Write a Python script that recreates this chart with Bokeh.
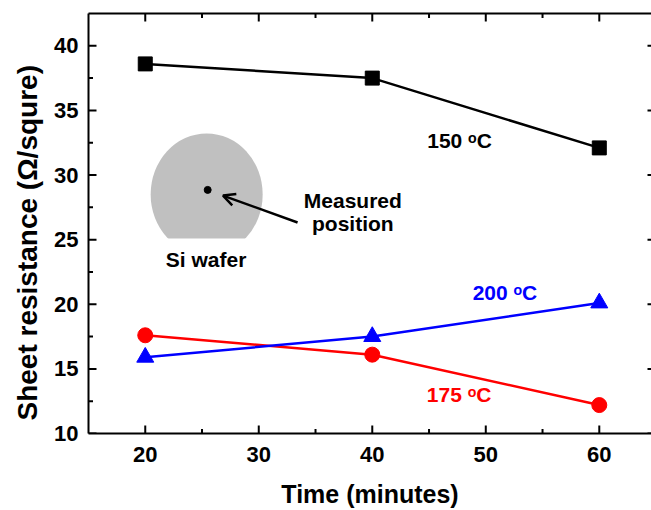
import math
from bokeh.plotting import figure
from bokeh.models import Range1d, FixedTicker, Label, Arrow, OpenHead, Title, LinearAxis
from bokeh.embed import file_html
from bokeh.resources import INLINE

# ---- data ----
time_min = [20, 40, 60]
r150 = [38.6, 37.5, 32.1]
r175 = [17.6, 16.1, 12.2]
r200 = [15.9, 17.5, 20.1]

x_major = [20, 30, 40, 50, 60]
x_minor = [25, 35, 45, 55]
y_major = [10, 15, 20, 25, 30, 35, 40]
y_minor = [12.5, 17.5, 22.5, 27.5, 32.5, 37.5]

X0, X1 = 15, 64.6
Y0, Y1 = 10, 42.5

FONT = "Liberation Sans"

p = figure(width=651, height=510, output_backend="svg", toolbar_location=None,
           x_range=Range1d(X0, X1), y_range=Range1d(Y0, Y1),
           min_border_left=87, min_border_right=0, min_border_top=13,
           min_border_bottom=77)
p.grid.visible = False
p.background_fill_color = "white"
p.border_fill_color = "white"
p.outline_line_color = None

for ax in (p.xaxis[0], p.yaxis[0]):
    ax.axis_line_width = 2
    ax.axis_line_color = "black"
    ax.major_tick_in = 0
    ax.major_tick_out = 0
    ax.minor_tick_in = 0
    ax.minor_tick_out = 0
    ax.major_label_text_font = FONT
    ax.major_label_text_font_style = "bold"
    ax.major_label_text_font_size = "22px"
    ax.major_label_text_color = "black"
    ax.major_label_text_line_height = 1.0

p.xaxis.ticker = FixedTicker(ticks=x_major, minor_ticks=x_minor)
p.yaxis.ticker = FixedTicker(ticks=y_major, minor_ticks=y_minor)
p.xaxis.major_label_standoff = 13
p.yaxis.major_label_standoff = 10

p.xaxis.axis_label = "Time (minutes)"
p.xaxis.axis_label_text_font = FONT
p.xaxis.axis_label_text_font_style = "bold"
p.xaxis.axis_label_text_font_size = "25px"
p.xaxis.axis_label_text_color = "black"
p.xaxis.axis_label_text_line_height = 1.0
p.xaxis.axis_label_standoff = 15

# top spine only (no ticks, no labels)
top = LinearAxis(ticker=FixedTicker(ticks=[]), axis_line_width=2, axis_line_color="black",
                 major_tick_in=0, major_tick_out=0, minor_tick_in=0, minor_tick_out=0)
p.add_layout(top, "above")

ytitle = Title(text="Sheet resistance (\u03a9/squre)", align="left", offset=13,
               text_font=FONT, text_font_style="bold", text_font_size="28px",
               text_color="black", text_line_height=1.0, standoff=18)
p.add_layout(ytitle, "left")

# ---- inward tick marks (clipped to the frame) ----
TK = "black"
p.scatter([X0] * len(y_major), y_major, marker="dash", size=16, line_width=2, line_color=TK)
p.scatter([X0] * len(y_minor), y_minor, marker="dash", size=9, line_width=2, line_color=TK)
p.scatter(x_major, [Y0] * len(x_major), marker="dash", angle=math.pi / 2, size=16, line_width=2, line_color=TK)
p.scatter(x_minor, [Y0] * len(x_minor), marker="dash", angle=math.pi / 2, size=9, line_width=2, line_color=TK)
p.scatter(x_major, [Y1] * len(x_major), marker="dash", angle=math.pi / 2, size=16, line_width=2, line_color=TK)
p.scatter(x_minor, [Y1] * len(x_minor), marker="dash", angle=math.pi / 2, size=9, line_width=2, line_color=TK)
p.scatter([X1] * len(y_major), y_major, marker="dash", size=8, line_width=2, line_color=TK)

# ---- inset: Si wafer ----
p.ellipse(x=25.41, y=28.5, width=112, height=122, width_units="screen",
          height_units="screen", fill_color="#c0c0c0", line_color=None)
p.quad(left=20.0, right=31.0, bottom=23.5, top=25.08, fill_color="white", line_color=None)
p.scatter(x=[25.5], y=[28.85], size=7, marker="circle", fill_color="black", line_color="black")
p.add_layout(Arrow(x_start=33.42, y_start=26.33, x_end=26.85, y_end=28.41,
                   line_width=2.5, line_color="black",
                   end=OpenHead(size=12, line_width=2.5, line_color="black")))

# ---- series ----
p.line(time_min, r150, line_color="black", line_width=2.5)
p.scatter(time_min, r150, marker="square", size=14, fill_color="black", line_color="black")
p.line(time_min, r175, line_color="#ff0000", line_width=2.5)
p.scatter(time_min, r175, marker="circle", size=15, fill_color="#ff0000", line_color="#ff0000")
p.line(time_min, r200, line_color="#0000ff", line_width=2.5)
p.scatter(time_min, r200, marker="triangle", size=17, fill_color="#0000ff", line_color="#0000ff")

def lab(x, y, t, color="black", size="21px"):
    p.add_layout(Label(x=x, y=y, text=t, text_font=FONT, text_font_style="bold",
                       text_font_size=size, text_color=color,
                       text_align="center", text_baseline="middle"))

lab(38.29, 28.02, "Measured")
lab(38.29, 26.23, "position")
lab(25.36, 23.44, "Si wafer")
lab(47.69, 32.68, "150 \u1d52C")
lab(51.69, 20.88, "200 \u1d52C", color="#0000ff")
lab(47.65, 13.04, "175 \u1d52C", color="#ff0000")

open("out.html", "w").write(file_html(p, INLINE))
